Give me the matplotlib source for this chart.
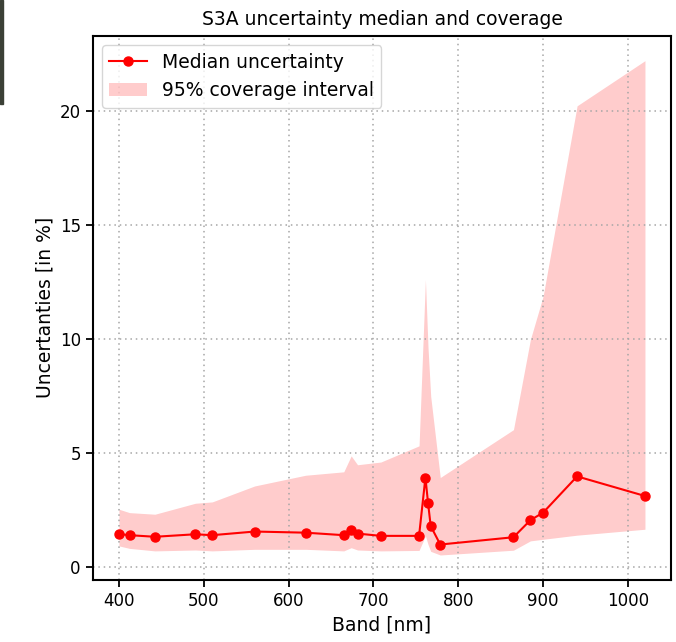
import numpy as np
import matplotlib
matplotlib.use("Agg")
import matplotlib.pyplot as plt
from matplotlib.patches import Rectangle

# OLCI band centres [nm]
bands = [400.0, 412.5, 442.5, 490.0, 510.0, 560.0, 620.0, 665.0, 673.75,
         681.25, 708.75, 753.75, 761.25, 764.375, 767.5, 778.75, 865.0,
         885.0, 900.0, 940.0, 1020.0]

# median relative uncertainty per band [%]
median_unc = [1.46, 1.41, 1.34, 1.45, 1.41, 1.57, 1.52, 1.41, 1.63,
              1.48, 1.38, 1.38, 3.94, 2.81, 1.81, 1.00, 1.32,
              2.07, 2.40, 3.99, 3.13]

# 2.5 / 97.5 percentiles (95% coverage interval) [%]
lower_unc = [0.94, 0.83, 0.72, 0.76, 0.72, 0.79, 0.79, 0.72, 0.86,
             0.76, 0.72, 0.74, 1.38, 1.00, 0.70, 0.54, 0.75,
             1.16, 1.23, 1.41, 1.67]
upper_unc = [2.55, 2.40, 2.33, 2.81, 2.87, 3.57, 4.04, 4.19, 4.89,
             4.50, 4.62, 5.33, 12.63, 9.6, 7.5, 3.94, 6.04,
             10.0, 11.9, 20.25, 22.23]

fig = plt.figure(figsize=(6.76, 6.42), dpi=100)
ax = fig.add_axes([0.137, 0.097, 0.856, 0.847])

ax.fill_between(bands, lower_unc, upper_unc, color="red", alpha=0.2,
                linewidth=0, label="95% coverage interval")
ax.plot(bands, median_unc, "r-o", markersize=6.5, linewidth=1.5,
        label="Median uncertainty")

ax.set_title("S3A uncertainty median and coverage", fontsize=13.5, pad=8)
ax.set_xlabel("Band [nm]", fontsize=13.5)
ax.set_ylabel("Uncertanties [in %]", fontsize=13.5)
ax.set_yticks([0, 5, 10, 15, 20])
ax.tick_params(labelsize=12, width=1.3, length=5)
for sp in ax.spines.values():
    sp.set_linewidth(1.5)
ax.grid(True, linestyle=(0, (1, 2.5)), color="0.65", linewidth=1.1)

handles, labels = ax.get_legend_handles_labels()
ax.legend(handles[::-1], labels[::-1], loc="upper left", fontsize=13.5)

# dark strip along the top-left edge
fig.patches.append(Rectangle((0, 0.838), 0.005, 0.162, transform=fig.transFigure,
                             color="#3b4036", zorder=0))

fig.savefig("out.png", dpi=100)
